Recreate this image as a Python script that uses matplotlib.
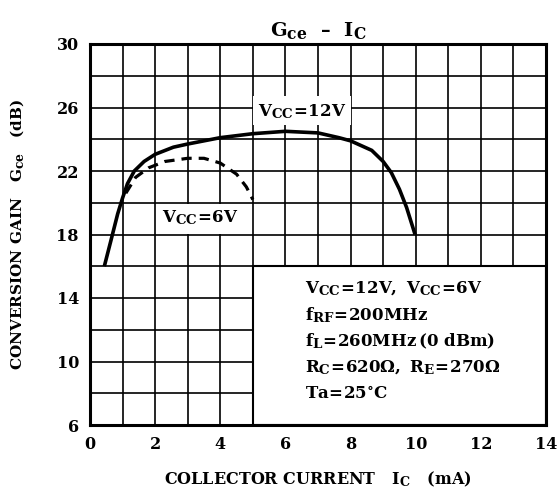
import matplotlib
matplotlib.use("Agg")
import matplotlib.pyplot as plt
from matplotlib.patches import Rectangle
import matplotlib._mathtext as _mt

_mt.SHRINK_FACTOR = 0.8

plt.rcParams['font.family'] = ['DejaVu Serif']
plt.rcParams['mathtext.fontset'] = 'custom'
plt.rcParams['mathtext.rm'] = 'DejaVu Serif:bold'
plt.rcParams['mathtext.bf'] = 'DejaVu Serif:bold'
plt.rcParams['mathtext.it'] = 'DejaVu Serif:bold'

# Data
ic_12v = [0.44, 0.64, 0.85, 1.0, 1.15, 1.36, 1.66, 2.0, 2.56, 3.0, 4.0, 5.0, 6.0, 7.0, 7.64,
          8.0, 8.65, 9.0, 9.25, 9.5, 9.72, 9.98]
gce_12v = [16.0, 17.6, 19.3, 20.3, 21.2, 22.0, 22.6, 23.05, 23.5, 23.7, 24.1, 24.35, 24.5, 24.4, 24.1,
           23.9, 23.3, 22.6, 21.9, 20.85, 19.7, 18.0]

ic_6v = [1.1, 1.4, 1.8, 2.3, 3.0, 3.5, 4.0, 4.5, 4.8, 5.0]
gce_6v = [20.6, 21.6, 22.2, 22.6, 22.8, 22.8, 22.5, 21.8, 21.0, 20.2]

x_ticks = [0, 2, 4, 6, 8, 10, 12, 14]
y_ticks = [6, 10, 14, 18, 22, 26, 30]

conditions = [
    r"$\mathrm{V_{CC}\!=\!12V,\ V_{CC}\!=\!6V}$",
    r"$\mathrm{f_{RF}\!=\!200MHz}$",
    r"$\mathrm{f_{L}\!=\!260MHz\,(0\ dBm)}$",
    r"$\mathrm{R_{C}\!=\!620\Omega,\ R_{E}\!=\!270\Omega}$",
    r"$\mathrm{Ta\!=\!25{}^{\circ}C}$",
]

fig = plt.figure(figsize=(5.6, 4.88), dpi=100)
ax = fig.add_axes([90/560, 1-425/488, (546-90)/560, (425-44)/488])
ax.set_xlim(0, 14)
ax.set_ylim(6, 30)

# grid
for gx in range(0, 15):
    ax.axvline(gx, color='black', lw=1.2, zorder=1)
for gy in range(6, 31, 2):
    ax.axhline(gy, color='black', lw=1.2, zorder=1)

# condition box
ax.add_patch(Rectangle((5, 6), 9, 10, facecolor='white', edgecolor='black', lw=1.5, zorder=2))

ax.plot(ic_12v, gce_12v, color='black', lw=2.6, zorder=4, solid_capstyle='butt',
        solid_joinstyle='round')
ax.plot(ic_6v, gce_6v, color='black', lw=2.3, ls=(0, (3.2, 2.2)), zorder=4)

# curve labels with white backgrounds
ax.add_patch(Rectangle((5.0, 24.9), 3.0, 1.8, facecolor='white', edgecolor='none', zorder=2))
ax.text(6.5, 25.75, r"$\mathrm{V_{CC}\!=\!12V}$", ha='center', va='center', fontsize=12, zorder=3)
ax.add_patch(Rectangle((2.02, 18.05), 2.95, 1.9, facecolor='white', edgecolor='none', zorder=2))
ax.text(3.4, 19.05, r"$\mathrm{V_{CC}\!=\!6V}$", ha='center', va='center', fontsize=12, zorder=3)

ys = [14.6, 12.9, 11.3, 9.6, 7.9]
for t, y in zip(conditions, ys):
    ax.text(6.6, y, t, ha='left', va='center', fontsize=12, zorder=3)

for s in ax.spines.values():
    s.set_linewidth(2.2)
    s.set_zorder(5)

ax.set_xticks(x_ticks)
ax.set_yticks(y_ticks)
ax.tick_params(length=0, labelsize=11.5, pad=8)
for lab in ax.get_xticklabels() + ax.get_yticklabels():
    lab.set_fontweight('bold')

ax.set_xlabel(r"COLLECTOR CURRENT   $\mathrm{I_C}$   (mA)", fontsize=11.5, fontweight='bold', labelpad=12)
ax.set_ylabel(r"CONVERSION GAIN   $\mathrm{G_{ce}}$   (dB)", fontsize=11, fontweight='bold', labelpad=22)
ax.set_title(r"$\mathrm{G_{ce}}$  –  $\mathrm{I_C}$", fontsize=14, fontweight='bold', pad=6)

fig.savefig("out.png", dpi=100)
